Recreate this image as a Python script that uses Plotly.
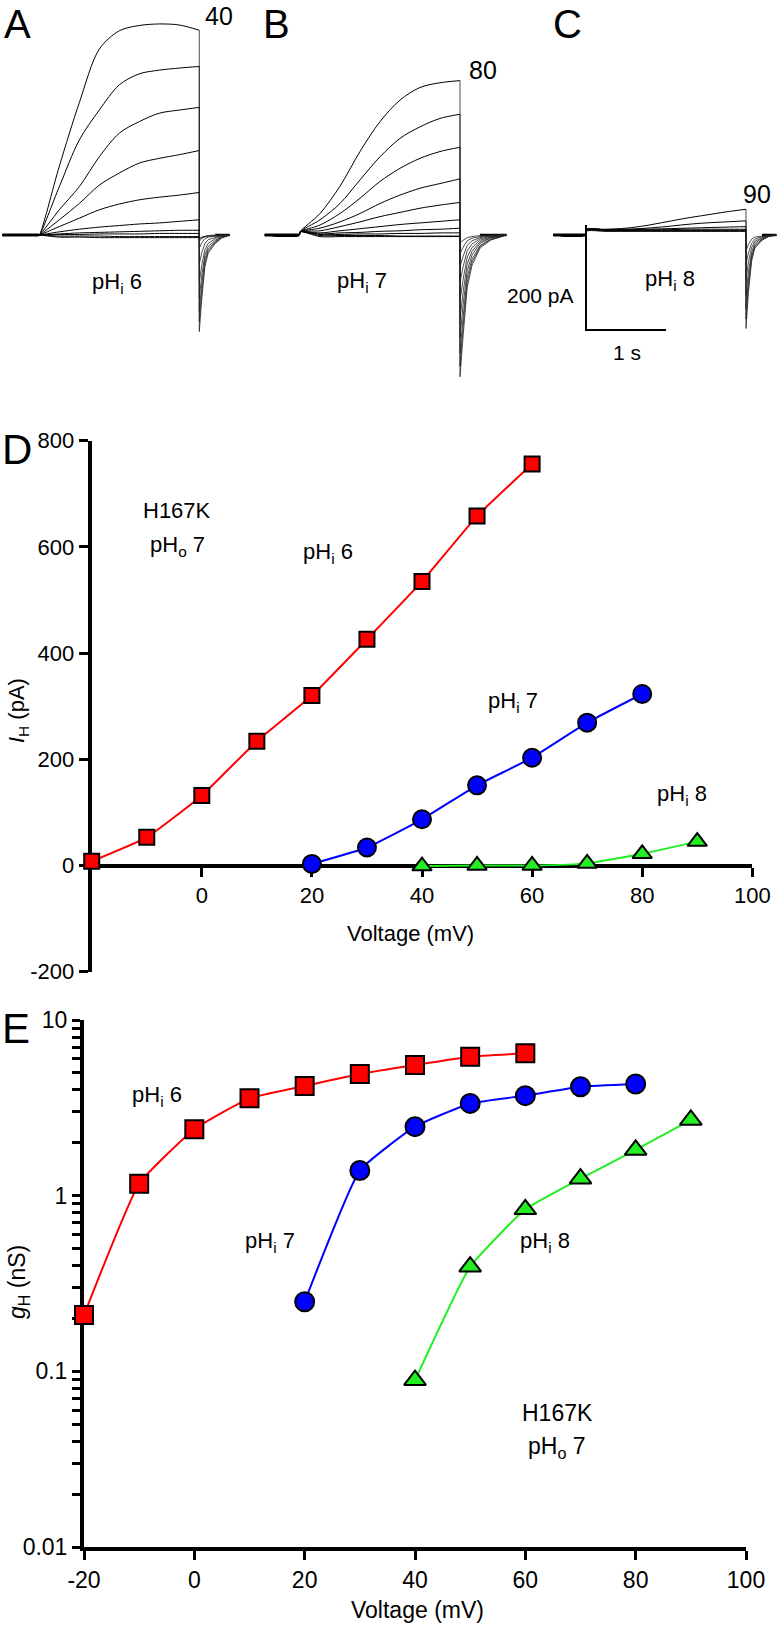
import plotly.graph_objects as go

W, H = 778, 1628
FONT = "Liberation Sans, Arial, sans-serif"

# ---------------- panels A-C: current families (time s, current pA) ----------------
pulse_t = [0, 0.25, 0.5, 0.75, 1.0, 1.25, 1.5, 1.75, 2.0]

a_pre_t = [-0.46, -0.01]
a_sweeps = [
    [0, 131, 252, 354, 389, 399, 402, 400, 390],
    [0, 92, 181, 238, 286, 307, 314, 318, 321],
    [0, 48, 92, 149, 194, 216, 232, 238, 243],
    [0, 29, 60, 95, 118, 137, 146, 153, 161],
    [0, 16, 32, 48, 59, 67, 72, 76, 81],
    [0, 6, 11, 15, 18, 21, 23, 26, 29],
    [0, 2, 4, 5, 6, 7, 8, 9, 9],
    [0, 1, 1, 2, 2, 2, 3, 3, 3],
    [0, -2, -2, -2, -3, -3, -3, -3, -3],
    [0, -4, -4, -5, -5, -5, -5, -5, -5],
]
a_tail_t = [2.0, 2.03, 2.07, 2.11, 2.2, 2.28, 2.38]
a_tails = [
    [-184, -124, -60, -35, -16, -6, 0],
    [-165, -110, -54, -31, -14, -5, 0],
    [-145, -95, -46, -27, -12, -4, 0],
    [-120, -78, -38, -22, -10, -3, 0],
    [-90, -58, -28, -16, -7, -2, 0],
    [-55, -34, -16, -9, -4, -1, 0],
    [-25, -15, -7, -4, -2, -1, 0],
    [-12, -7, -3, -2, -1, 0, 0],
    [-8, -5, -3, -2, -1, 0, 0],
    [-6, -4, -2, -1, 0, 0, 0],
]

b_pre_t = [-0.44, -0.01]
b_sweeps = [
    [6, 41, 93, 159, 216, 257, 281, 290, 294],
    [6, 29, 60, 105, 149, 184, 206, 222, 230],
    [6, 19, 41, 70, 102, 127, 146, 159, 167],
    [6, 13, 25, 41, 60, 76, 89, 98, 107],
    [6, 8, 16, 25, 35, 43, 51, 57, 62],
    [6, 4, 8, 12, 16, 20, 23, 26, 29],
    [6, 2, 4, 5, 7, 8, 10, 11, 13],
    [6, 1, 1, 2, 2, 3, 3, 4, 4],
    [6, -1, -1, -1, -1, -2, -2, -2, -2],
    [6, -3, -3, -3, -3, -3, -3, -3, -3],
]
b_tail_t = [2.0, 2.04, 2.09, 2.15, 2.25, 2.38, 2.58]
b_tails = [
    [-270, -190, -100, -58, -25, -10, 0],
    [-250, -172, -90, -52, -22, -9, 0],
    [-225, -155, -80, -46, -20, -8, 0],
    [-195, -132, -68, -38, -16, -6, 0],
    [-160, -108, -55, -31, -13, -5, 0],
    [-125, -84, -42, -24, -10, -4, 0],
    [-90, -60, -30, -17, -7, -3, 0],
    [-60, -40, -20, -11, -5, -2, 0],
    [-35, -23, -11, -6, -3, -1, 0],
    [-15, -10, -5, -3, -1, 0, 0],
]

c_pre_t = [-0.41, -0.01]
c_sweeps = [
    [10, 11, 13, 18, 25, 32, 38, 44, 49],
    [10, 10, 11, 13, 16, 20, 23, 25, 27],
    [10, 10, 10, 11, 12, 13, 14, 15, 16],
    [10, 10, 10, 10, 10, 11, 11, 11, 11],
    [9, 9, 9, 9, 9, 9, 9, 9, 9],
    [8, 8, 8, 8, 8, 8, 8, 8, 8],
    [7, 7, 7, 7, 7, 7, 7, 7, 7],
]
c_tail_t = [2.0, 2.03, 2.07, 2.11, 2.2, 2.28, 2.38]
c_tails = [
    [-178, -110, -50, -25, -10, -3, 0],
    [-160, -98, -45, -22, -9, -3, 0],
    [-140, -86, -40, -20, -8, -2, 0],
    [-115, -70, -33, -16, -6, -2, 0],
    [-85, -52, -24, -12, -5, -1, 0],
    [-55, -34, -16, -8, -3, -1, 0],
    [-30, -18, -8, -4, -2, -1, 0],
]

scalebar_pA = 200
scalebar_s = 1
scalebar_top = 19

# ---------------- panel D: I-V ----------------
volt6 = [-20, -10, 0, 10, 20, 30, 40, 50, 60]
volt7 = [20, 30, 40, 50, 60, 70, 80]
volt8 = [40, 50, 60, 70, 80, 90]
ih6 = [8, 53, 132, 234, 320, 426, 535, 658, 756]
ih7 = [3, 34, 87, 151, 203, 269, 323]
ih8 = [-1, 0, 0, 4, 22, 45]

# ---------------- panel E: g-V ----------------
gh6 = [0.209, 1.17, 2.39, 3.58, 4.21, 4.93, 5.54, 6.18, 6.46]
gh7 = [0.249, 1.39, 2.47, 3.35, 3.71, 4.17, 4.32]
gh8 = [0.089, 0.394, 0.836, 1.25, 1.82, 2.70]

d_xticks = [0, 20, 40, 60, 80, 100]
d_yticks = [-200, 0, 200, 400, 600, 800]
e_xticks = [-20, 0, 20, 40, 60, 80, 100]

RED, BLUE, GREEN = "#ff0000", "#0000ff", "#22ee22"


def px(x):
    return x / W


def py(y):
    return 1 - y / H


fig = go.Figure()


def add_family(n, pre_t, sweeps, tail_t, tails):
    xa, ya = "x%d" % n, "y%d" % n
    fig.add_trace(go.Scatter(x=pre_t, y=[0, 0], mode="lines", xaxis=xa, yaxis=ya,
                             line=dict(color="black", width=3), hoverinfo="skip"))
    fig.add_trace(go.Scatter(x=tail_t[-3:], y=[0, 0, 0], mode="lines", xaxis=xa, yaxis=ya,
                             line=dict(color="black", width=2.5), hoverinfo="skip"))
    for sw, tl in zip(sweeps, tails):
        fig.add_trace(go.Scatter(x=pre_t + pulse_t, y=[0, 0] + sw, mode="lines",
                                 xaxis=xa, yaxis=ya, hoverinfo="skip",
                                 line=dict(color="black", width=1, shape="spline", smoothing=0.9)))
        fig.add_trace(go.Scatter(x=[pulse_t[-1]] + tail_t, y=[sw[-1]] + tl, mode="lines",
                                 xaxis=xa, yaxis=ya, hoverinfo="skip",
                                 line=dict(color="#222222", width=0.8)))


add_family(1, a_pre_t, a_sweeps, a_tail_t, a_tails)
add_family(2, b_pre_t, b_sweeps, b_tail_t, b_tails)
add_family(3, c_pre_t, c_sweeps, c_tail_t, c_tails)

# scale bar in panel C units
fig.add_trace(go.Scatter(x=[0, 0, scalebar_s],
                         y=[scalebar_top, scalebar_top - scalebar_pA, scalebar_top - scalebar_pA],
                         mode="lines", xaxis="x3", yaxis="y3", hoverinfo="skip",
                         line=dict(color="black", width=2)))


def series(x, y, color, symbol, size, n):
    fig.add_trace(go.Scatter(x=x, y=y, mode="lines+markers", xaxis="x%d" % n, yaxis="y%d" % n,
                             cliponaxis=False,
                             line=dict(color=color, width=2, shape="spline", smoothing=0.4),
                             marker=dict(color=color, symbol=symbol, size=size,
                                         line=dict(color="black", width=2))))


series(volt6, ih6, RED, "square", 15, 4)
series(volt7, ih7, BLUE, "circle", 18, 4)
series(volt8, ih8, GREEN, "triangle-up", 17, 4)

series(volt6, gh6, RED, "square", 18, 5)
series(volt7, gh7, BLUE, "circle", 19, 5)
series(volt8, gh8, GREEN, "triangle-up", 19, 5)

# ---------------- axes ----------------
PA_PER_PX = 200 / 105.0
S_PER_PX = 1 / 80.0


def trace_axes(n, x0, x1, t0px, y0, y1, zpx):
    xr = [(x0 - t0px) * S_PER_PX, (x1 - t0px) * S_PER_PX]
    yr = [(zpx - y1) * PA_PER_PX, (zpx - y0) * PA_PER_PX]
    xa = dict(domain=[px(x0), px(x1)], range=xr, visible=False, fixedrange=True,
              automargin=False, anchor="y%d" % n)
    ya = dict(domain=[py(y1), py(y0)], range=yr, visible=False, fixedrange=True,
              automargin=False, anchor="x%d" % n)
    return xa, ya


xa1, ya1 = trace_axes(1, 0, 240, 39.3, 0, 345, 235)
xa2, ya2 = trace_axes(2, 245, 520, 300, 0, 400, 235)
xa3, ya3 = trace_axes(3, 540, 778, 586, 0, 345, 235)

axis_style = dict(showline=True, linewidth=4, linecolor="black", ticks="outside",
                  tickwidth=3, ticklen=9, tickcolor="black", showgrid=False,
                  zeroline=False, layer="below traces", fixedrange=True, automargin=False)

yD_dom = [py(971.7), py(440.7)]
yD_range = [-200, 800]
xD_pos = yD_dom[0] + (0 - yD_range[0]) / (yD_range[1] - yD_range[0]) * (yD_dom[1] - yD_dom[0])

xa4 = dict(axis_style, domain=[px(91.7), px(752.3)], range=[-20, 100], anchor="free",
           position=xD_pos, tickmode="array", tickvals=d_xticks,
           ticktext=[str(v) for v in d_xticks], tickfont=dict(size=22))
ya4 = dict(axis_style, domain=yD_dom, range=yD_range, anchor="x4",
           tickmode="array", tickvals=d_yticks, ticktext=[str(v) for v in d_yticks],
           tickfont=dict(size=22))

# log axis: decades labelled, 2..9 as unlabelled ticks
decades = [0.01, 0.1, 1, 10]
minor_vals = [k * d for d in decades[:-1] for k in range(2, 10)]
e_tickvals = decades + minor_vals
e_ticktext = ["0.01", "0.1", "1", "10"] + [""] * len(minor_vals)

xa5 = dict(axis_style, domain=[px(84), px(746)], range=[-20, 100], anchor="y5",
           tickmode="array", tickvals=e_xticks, ticktext=[str(v) for v in e_xticks],
           tickfont=dict(size=23))
ya5 = dict(axis_style, domain=[py(1547), py(1020)], type="log", range=[-2, 1], anchor="x5",
           tickmode="array", tickvals=e_tickvals, ticktext=e_ticktext, ticklen=8,
           tickfont=dict(size=23))

# ---------------- text ----------------
notes = []


def note(text, x, y, size=22, xanchor="center", angle=0, yanchor="middle"):
    notes.append(dict(text=text, x=px(x), y=py(y), xref="paper", yref="paper",
                      xanchor=xanchor, yanchor=yanchor, showarrow=False, textangle=angle,
                      font=dict(size=size, family=FONT, color="black")))


note("A", 17, 0, 40, yanchor="top")
note("B", 276, 0, 40, yanchor="top")
note("C", 567, 0, 40, yanchor="top")
note("D", 0, 449, 42, xanchor="left")
note("E", 0, 1028, 42, xanchor="left")

note("40", 219, 0, 25, yanchor="top")
note("80", 483, 70, 25)
note("90", 757, 194, 25)
note("pH<sub>i</sub> 6", 117, 283)
note("pH<sub>i</sub> 7", 362, 282)
note("pH<sub>i</sub> 8", 670, 280)
note("200 pA", 576, 295, 21, xanchor="right")
note("1 s", 627, 352, 21)

note("H167K", 177, 511)
note("pH<sub>o</sub> 7", 177, 546)
note("pH<sub>i</sub> 6", 328, 553)
note("pH<sub>i</sub> 7", 513, 702)
note("pH<sub>i</sub> 8", 682, 795)
note("Voltage (mV)", 410, 933)
note("<i>I</i><sub>H</sub> (pA)", 18, 711, angle=-90)

note("pH<sub>i</sub> 6", 157, 1096)
note("pH<sub>i</sub> 7", 270, 1242)
note("pH<sub>i</sub> 8", 545, 1242)
note("H167K", 557, 1413, 23)
note("pH<sub>o</sub> 7", 557, 1447, 23)
note("Voltage (mV)", 417, 1610, 23)
note("<i>g</i><sub>H</sub> (nS)", 18, 1282, 23, angle=-90)

fig.update_layout(
    template="none",
    width=W, height=H, margin=dict(l=0, r=0, t=0, b=0, pad=0), autosize=False,
    plot_bgcolor="white", paper_bgcolor="white", showlegend=False,
    font=dict(family=FONT, color="black"),
    xaxis1=xa1, yaxis1=ya1, xaxis2=xa2, yaxis2=ya2, xaxis3=xa3, yaxis3=ya3,
    xaxis4=xa4, yaxis4=ya4, xaxis5=xa5, yaxis5=ya5,
    annotations=notes,
)

# the page's default body margin would push the figure 8px right/down
fig.write_html("out.html", config={"displayModeBar": False},
               post_script="document.body.style.margin='0';")
